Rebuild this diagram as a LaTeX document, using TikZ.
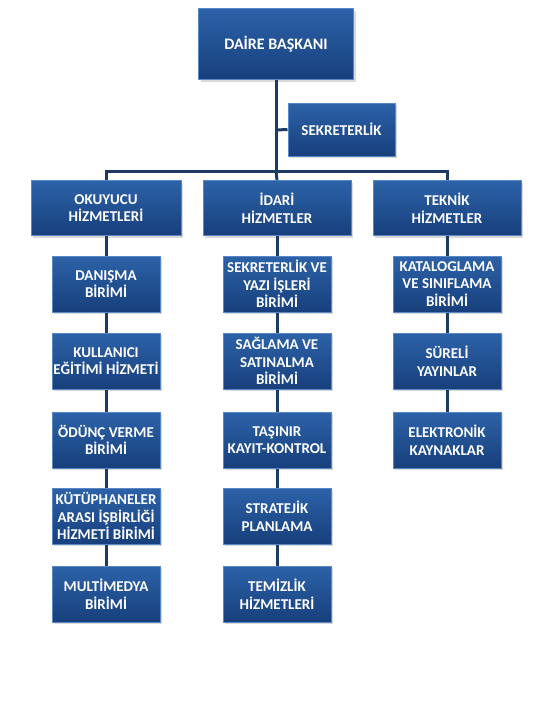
\documentclass[tikz,border=0pt]{standalone}
\usepackage{fontspec}
\setmainfont{Carlito}
\usetikzlibrary{positioning, shadows}
\definecolor{cnavy}{HTML}{1C3A64}
\definecolor{cboxtop}{HTML}{2C62A8}
\definecolor{cboxbot}{HTML}{173F7C}
\definecolor{cedge}{HTML}{5A88C6}
\tikzset{
  every picture/.style={line width=1pt},
  unit/.style={draw=cedge, top color=cboxtop, bottom color=cboxbot, text=white, align=center,
    inner sep=1pt, font=\bfseries\fontsize{15}{17.5}\selectfont,
    drop shadow={opacity=0.3, shadow xshift=2pt, shadow yshift=-2pt}},
  subunit/.style={unit, minimum width=108pt, minimum height=56pt},
  link/.style={draw=cnavy, line width=3pt},
}

\begin{document}
\begin{tikzpicture}[x=1pt, y=-1pt]
  \useasboundingbox (0,0) rectangle (556,713);
  % head of the department
  \node[unit, minimum width=155pt, minimum height=71pt, font=\bfseries\fontsize{16}{18}\selectfont] (baskan) at (276,44) {DAİRE BAŞKANI};
  \node[unit, minimum width=107pt, minimum height=53pt] (sekr) at (341.5,129.5) {SEKRETERLİK};
  \coordinate (trunk) at (276,130);
  \coordinate (bus) at (276,171);
  % the three departments
  \node[unit, minimum width=150pt, minimum height=55pt] (oku) at (106,208) {OKUYUCU\\HİZMETLERİ};
  \node[unit, minimum width=148pt, minimum height=55pt] (ida) at (277,208) {İDARİ\\HİZMETLER};
  \node[unit, minimum width=148pt, minimum height=55pt] (tek) at (447,208) {TEKNİK\\HİZMETLER};
  % units below each department
  \foreach \n/\x/\y/\t in {o1/106/284/{DANIŞMA\\BİRİMİ}, o2/106/361/{KULLANICI\\EĞİTİMİ HİZMETİ},
                           o3/106/440/{ÖDÜNÇ VERME\\BİRİMİ}, o4/106/516/{KÜTÜPHANELER\\ARASI İŞBİRLİĞİ\\HİZMETİ BİRİMİ},
                           o5/106/594/{MULTİMEDYA\\BİRİMİ},
                           i1/277/284/{SEKRETERLİK VE\\YAZI İŞLERİ\\BİRİMİ}, i2/277/361/{SAĞLAMA VE\\SATINALMA\\BİRİMİ},
                           i3/277/440/{TAŞINIR\\KAYIT-KONTROL}, i4/277/516/{STRATEJİK\\PLANLAMA},
                           i5/277/594/{TEMİZLİK\\HİZMETLERİ},
                           t1/447/284/{KATALOGLAMA\\VE SINIFLAMA\\BİRİMİ}, t2/447/361/{SÜRELİ\\YAYINLAR},
                           t3/447/440/{ELEKTRONİK\\KAYNAKLAR}} {
    \node[subunit] (\n) at (\x,\y) {\t};
  }
  % connectors
  \draw[link] (baskan.south) -- (bus);
  \draw[link] (trunk) -- (sekr.west);
  \draw[link] (oku.north) |- (bus) -| (tek.north);
  \draw[link] (bus) -- (ida.north);
  \foreach \a/\b in {oku/o1, o1/o2, o2/o3, o3/o4, o4/o5, ida/i1, i1/i2, i2/i3, i3/i4, i4/i5, tek/t1, t1/t2, t2/t3} {
    \draw[link] (\a.south) -- (\b.north);
  }
\end{tikzpicture}
\end{document}
